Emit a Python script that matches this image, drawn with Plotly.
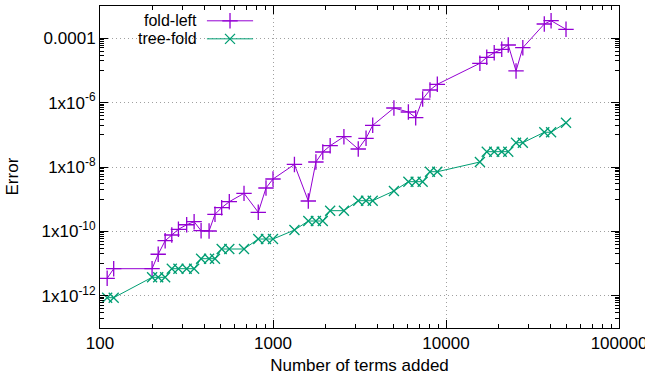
import plotly.graph_objects as go

terms = [110, 120, 200, 217, 238, 260, 284, 317, 350, 384, 427, 462, 505, 559, 680,
         822, 911, 1000, 1330, 1600, 1770, 1940, 2140, 2570, 3110, 3450, 3770, 5000,
         6060, 6680, 7330, 8080, 8910, 15700, 17200, 19000, 21000, 22900, 25400,
         27800, 37000, 40500, 49400]

fold_left = [3.5e-12, 6.95e-12, 6.95e-12, 1.95e-11, 5.14e-11, 7.73e-11, 1.16e-10,
             1.61e-10, 2.0e-10, 1.05e-10, 1.03e-10, 3.4e-10, 5.45e-10, 8.36e-10,
             1.52e-9, 3.92e-10, 2.23e-9, 4.24e-9, 1.2e-8, 8.8e-10, 1.43e-8, 2.92e-8,
             4.58e-8, 8.73e-8, 3.62e-8, 7.78e-8, 1.97e-7, 6.8e-7, 5.1e-7, 3.4e-7,
             1.29e-6, 2.46e-6, 3.7e-6, 1.66e-5, 2.55e-5, 3.55e-5, 4.52e-5, 6.15e-5,
             9.6e-6, 5.07e-5, 2.76e-4, 3.5e-4, 1.89e-4]

tree_fold = [8.73e-13, 8.73e-13, 3.75e-12, 3.75e-12, 3.75e-12, 6.95e-12, 6.95e-12,
             6.95e-12, 6.95e-12, 1.42e-11, 1.42e-11, 1.42e-11, 2.84e-11, 2.84e-11,
             2.84e-11, 5.8e-11, 5.8e-11, 5.8e-11, 1.1e-10, 2.1e-10, 2.1e-10, 2.1e-10,
             4.4e-10, 4.4e-10, 8.98e-10, 8.98e-10, 8.98e-10, 1.8e-9, 3.5e-9, 3.5e-9,
             3.5e-9, 7.14e-9, 7.14e-9, 1.43e-8, 2.99e-8, 2.99e-8, 2.99e-8, 2.99e-8,
             5.69e-8, 5.69e-8, 1.2e-7, 1.2e-7, 2.38e-7]

series_names = ["fold-left", "tree-fold"]
x_tickvals = [100, 1000, 10000, 100000]
x_ticktext = ["100", "1000", "10000", "100000"]
y_tickvals = [1e-12, 1e-10, 1e-8, 1e-6, 1e-4]
y_ticktext = ["1x10<sup>-12</sup>", "1x10<sup>-10</sup>", "1x10<sup>-8</sup>",
              "1x10<sup>-6</sup>", "0.0001"]

PURPLE = "#9400d3"
GREEN = "#009e73"
FONT = "Liberation Sans, Arial, sans-serif"
FS = 17

x_minor = [m * 10 ** k for k in range(2, 5) for m in range(2, 10)]
y_minor = [m * 10.0 ** e for e in (-13, -11, -9, -7, -5, -3) for m in range(1, 10)
           if m * 10.0 ** e <= 1e-3]

fig = go.Figure()
fig.add_trace(go.Scatter(
    x=terms, y=fold_left, mode="lines+markers", name=series_names[0],
    line=dict(color=PURPLE, width=1),
    marker=dict(symbol="cross-thin-open", size=11, color=PURPLE,
                line=dict(color=PURPLE, width=1.3)),
    showlegend=False))
fig.add_trace(go.Scatter(
    x=terms, y=tree_fold, mode="lines+markers", name=series_names[1],
    line=dict(color=GREEN, width=1),
    marker=dict(symbol="x-thin-open", size=10, color=GREEN,
                line=dict(color=GREEN, width=1.3)),
    showlegend=False))

# gnuplot-style key: text on the left, sample on the right
key_y = [0.954, 0.898]
key_colors = [PURPLE, GREEN]
key_symbols = ["cross-thin-open", "x-thin-open"]
key_sizes = [11, 10]
for name, ky, col, sym, sz in zip(series_names, key_y, key_colors, key_symbols, key_sizes):
    fig.add_trace(go.Scatter(x=[0.206, 0.295], y=[ky, ky], mode="lines",
                             line=dict(color=col, width=1), xaxis="x2", yaxis="y2",
                             showlegend=False, hoverinfo="skip"))
    fig.add_trace(go.Scatter(x=[0.2505], y=[ky], mode="markers",
                             marker=dict(symbol=sym, size=sz, color=col,
                                         line=dict(color=col, width=1.3)),
                             xaxis="x2", yaxis="y2", showlegend=False,
                             hoverinfo="skip"))
    fig.add_annotation(x=0.188, y=ky, xref="paper", yref="paper", text=name,
                       showarrow=False, xanchor="right", yanchor="middle",
                       borderpad=0,
                       font=dict(family=FONT, size=16, color="black"))

fig.add_annotation(x=-0.168, y=0.47, xref="paper", yref="paper", text="Error",
                   textangle=-90, showarrow=False, xanchor="center", yanchor="middle",
                   font=dict(family=FONT, size=FS, color="black"))

axis_common = dict(showline=True, linecolor="black", linewidth=1, mirror="ticks",
                   ticks="inside", ticklen=8, tickcolor="black", tickwidth=1,
                   showgrid=True, gridcolor="#a0a0a0", griddash="1px,3px", gridwidth=1,
                   zeroline=False, ticklabeloverflow="allow", automargin=False,
                   tickfont=dict(family=FONT, size=FS, color="black"))

fig.update_layout(
    width=645, height=376,
    margin=dict(l=100, r=26, t=6, b=48),
    paper_bgcolor="white", plot_bgcolor="white",
    xaxis=dict(type="log", range=[2 - 1e-5, 5 + 1e-5], tickmode="array",
               tickvals=x_tickvals, ticktext=x_ticktext,
               minor=dict(tickmode="array", tickvals=x_minor, ticks="inside",
                          ticklen=4, tickcolor="black", showgrid=False),
               title=dict(text="Number of terms added",
                          font=dict(family=FONT, size=FS, color="black"), standoff=6),
               **axis_common),
    yaxis=dict(type="log", range=[-13, -3], tickmode="array", tickvals=y_tickvals,
               ticktext=y_ticktext,
               minor=dict(tickmode="array", tickvals=y_minor, ticks="inside",
                          ticklen=4, tickcolor="black", showgrid=False),
               **axis_common),
    xaxis2=dict(overlaying="x", range=[0, 1], visible=False, fixedrange=True),
    yaxis2=dict(overlaying="y", range=[0, 1], visible=False, fixedrange=True),
    showlegend=False,
)

fig.write_html("out.html")
